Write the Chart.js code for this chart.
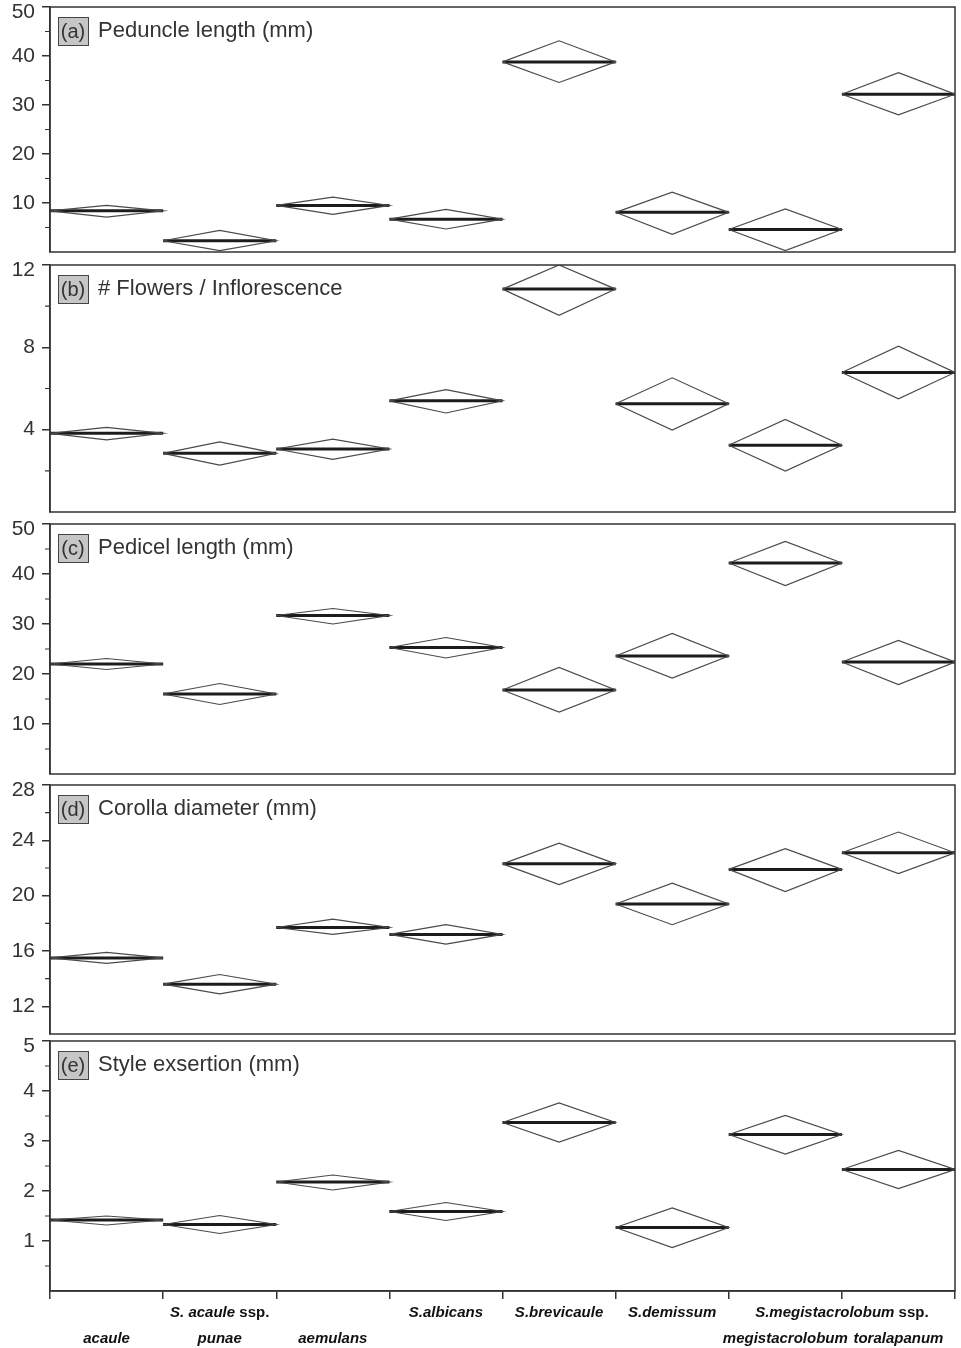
<!DOCTYPE html>
<html>
<head>
<meta charset="utf-8">
<script src="https://cdn.jsdelivr.net/npm/chart.js@4.4.1/dist/chart.umd.min.js"></script>
<style>
  body { margin: 0; background: #fff; }
  #wrap { position: relative; width: 961px; height: 1348px; overflow: hidden; background: #fff; }
  #wrap canvas { position: absolute; left: 0; }
</style>
</head>
<body>
<div id="wrap"></div>
<script>
// taxa, in plotting order
const categories = ['acaule', 'punae', 'aemulans', 'albicans', 'brevicaule', 'demissum', 'megistacrolobum', 'toralapanum'];
// upper label row: [text, first category, last category]
const speciesGroups = [
  ['S. acaule ssp.', 0, 2],
  ['S.albicans', 3, 3],
  ['S.brevicaule', 4, 4],
  ['S.demissum', 5, 5],
  ['S.megistacrolobum ssp.', 6, 7]
];
const subspeciesLabels = ['acaule', 'punae', 'aemulans', '', '', '', 'megistacrolobum', 'toralapanum'];

// (a) peduncle length (mm): mean and diamond top / bottom
const peduncleMean  = [8.4, 2.3, 9.5, 6.7, 38.8, 8.1, 4.6, 32.2];
const peduncleUpper = [9.5, 4.4, 11.2, 8.7, 43.1, 12.2, 8.8, 36.6];
const peduncleLower = [7.1, 0.3, 7.7, 4.7, 34.6, 3.6, 0.3, 28.0];
const peduncleTicks = [10, 20, 30, 40, 50];

// (b) flowers per inflorescence
const flowersMean  = [3.82, 2.85, 3.06, 5.40, 10.83, 5.26, 3.24, 6.78];
const flowersUpper = [4.11, 3.41, 3.54, 5.94, 12.0, 6.52, 4.50, 8.06];
const flowersLower = [3.50, 2.28, 2.56, 4.81, 9.56, 3.98, 1.99, 5.50];
const flowersTicks = [4, 8, 12];

// (c) pedicel length (mm)
const pedicelMean  = [22.0, 16.0, 31.7, 25.3, 16.8, 23.6, 42.2, 22.4];
const pedicelUpper = [23.1, 18.1, 33.1, 27.3, 21.3, 28.1, 46.5, 26.7];
const pedicelLower = [20.9, 13.9, 30.0, 23.2, 12.4, 19.2, 37.7, 17.9];
const pedicelTicks = [10, 20, 30, 40, 50];

// (d) corolla diameter (mm)
const corollaMean  = [15.5, 13.6, 17.7, 17.2, 22.3, 19.4, 21.9, 23.1];
const corollaUpper = [15.9, 14.3, 18.3, 17.9, 23.8, 20.9, 23.4, 24.6];
const corollaLower = [15.1, 12.9, 17.2, 16.5, 20.8, 17.9, 20.3, 21.6];
const corollaTicks = [12, 16, 20, 24, 28];

// (e) style exsertion (mm)
const styleMean  = [1.42, 1.33, 2.18, 1.59, 3.37, 1.27, 3.13, 2.43];
const styleUpper = [1.50, 1.51, 2.32, 1.77, 3.76, 1.66, 3.51, 2.81];
const styleLower = [1.32, 1.15, 2.02, 1.41, 2.98, 0.87, 2.74, 2.05];
const styleTicks = [1, 2, 3, 4, 5];

const panels = [
  { tag: '(a)', title: 'Peduncle length (mm)', mean: peduncleMean, upper: peduncleUpper, lower: peduncleLower, ticks: peduncleTicks, min: 0, max: 50, top: 7, bottom: 252 },
  { tag: '(b)', title: '# Flowers / Inflorescence', mean: flowersMean, upper: flowersUpper, lower: flowersLower, ticks: flowersTicks, min: 0, max: 12, top: 265, bottom: 512 },
  { tag: '(c)', title: 'Pedicel length (mm)', mean: pedicelMean, upper: pedicelUpper, lower: pedicelLower, ticks: pedicelTicks, min: 0, max: 50, top: 524, bottom: 774 },
  { tag: '(d)', title: 'Corolla diameter (mm)', mean: corollaMean, upper: corollaUpper, lower: corollaLower, ticks: corollaTicks, min: 10, max: 28, top: 785, bottom: 1034 },
  { tag: '(e)', title: 'Style exsertion (mm)', mean: styleMean, upper: styleUpper, lower: styleLower, ticks: styleTicks, min: 0, max: 5, top: 1041, bottom: 1291 }
];

const INK = '#333';
const FONT = '"Liberation Sans", Arial, sans-serif';
const PAGE_H = 1348;

function drawTaxon(ctx, text, cx, y) {
  // "ssp." stays upright, the names are italic
  let parts = [[text, 'italic bold']];
  if (text.endsWith(' ssp.')) parts = [[text.slice(0, -4), 'italic bold'], ['ssp.', 'bold']];
  let total = 0;
  parts.forEach(p => { ctx.font = p[1] + ' 15px ' + FONT; p.push(ctx.measureText(p[0]).width); total += p[2]; });
  let x = cx - total / 2;
  parts.forEach(p => {
    ctx.font = p[1] + ' 15px ' + FONT;
    ctx.fillText(p[0], x, y);
    x += p[2];
  });
}

const decor = {
  id: 'decor',
  afterDraw(chart, args, opts) {
    const { ctx, chartArea: a, scales: { x, y } } = chart;
    const p = opts.panel;
    ctx.save();
    // frame
    ctx.strokeStyle = INK;
    ctx.lineWidth = 1.5;
    ctx.strokeRect(a.left, a.top, a.right - a.left, a.bottom - a.top);

    // minor ticks half-way between labelled ticks
    const step = p.ticks[1] - p.ticks[0];
    ctx.lineWidth = 1.2;
    ctx.beginPath();
    for (let v = p.ticks[0] - step / 2; v < p.max; v += step) {
      if (v <= p.min) continue;
      const py = y.getPixelForValue(v);
      ctx.moveTo(a.left - 5, py);
      ctx.lineTo(a.left, py);
    }
    ctx.stroke();

    // y tick labels, the top one pushed inside like the original
    ctx.fillStyle = INK;
    ctx.font = '21px ' + FONT;
    ctx.textAlign = 'right';
    ctx.textBaseline = 'middle';
    p.ticks.forEach(v => {
      let py = y.getPixelForValue(v);
      if (py < a.top + 5) py = a.top + 5;
      ctx.fillText(String(v), a.left - 15, py);
    });

    // panel tag box and title
    ctx.fillStyle = '#c6c6c6';
    ctx.fillRect(a.left + 8, a.top + 10, 30, 28);
    ctx.lineWidth = 1;
    ctx.strokeStyle = '#444';
    ctx.strokeRect(a.left + 8.5, a.top + 10.5, 30, 28);
    ctx.fillStyle = INK;
    ctx.textAlign = 'center';
    ctx.font = '20px ' + FONT;
    ctx.fillText(p.tag, a.left + 23, a.top + 25);
    ctx.textAlign = 'left';
    ctx.font = '22px ' + FONT;
    ctx.fillText(p.title, a.left + 48, a.top + 24);

    // category labels under the last panel
    if (opts.last) {
      ctx.fillStyle = '#111';
      ctx.textAlign = 'left';
      speciesGroups.forEach(g => {
        const cx = (x.getPixelForValue(g[1]) + x.getPixelForValue(g[2])) / 2;
        drawTaxon(ctx, g[0], cx, a.bottom + 22);
      });
      subspeciesLabels.forEach((t, i) => {
        if (t) drawTaxon(ctx, t, x.getPixelForValue(i), a.bottom + 48);
      });
    }
    ctx.restore();
  }
};

const wrap = document.getElementById('wrap');
const boundaries = categories.map((_, i) => i - 0.5).concat(categories.length - 0.5);

panels.forEach((p, k) => {
  const last = k === panels.length - 1;
  const cTop = Math.max(0, p.top - 10);
  const cH = last ? PAGE_H - cTop : p.bottom + 6 - cTop;
  const canvas = document.createElement('canvas');
  canvas.width = 961;
  canvas.height = cH;
  canvas.style.top = cTop + 'px';
  wrap.appendChild(canvas);

  const datasets = [];
  categories.forEach((c, i) => {
    datasets.push({
      label: c + ' diamond',
      data: [
        { x: i - 0.5, y: p.mean[i] }, { x: i, y: p.upper[i] },
        { x: i + 0.5, y: p.mean[i] }, { x: i, y: p.lower[i] },
        { x: i - 0.5, y: p.mean[i] }
      ],
      borderColor: '#4a4a4a',
      borderWidth: 1.2
    });
    datasets.push({
      label: c + ' mean',
      data: [{ x: i - 0.5, y: p.mean[i] }, { x: i + 0.5, y: p.mean[i] }],
      borderColor: '#1c1c1c',
      borderWidth: 3
    });
  });

  const xScale = {
    type: 'linear', min: -0.5, max: 7.5, display: last,
    afterBuildTicks: s => { s.ticks = boundaries.map(v => ({ value: v })); },
    ticks: { display: false },
    grid: { drawOnChartArea: false, drawTicks: true, tickLength: 8, color: INK, lineWidth: 1.5 },
    border: { display: true, color: INK, width: 1.5 }
  };
  if (last) xScale.afterFit = s => { s.height = PAGE_H - p.bottom; };

  new Chart(canvas, {
    type: 'line',
    data: { datasets },
    options: {
      responsive: false,
      animation: false,
      devicePixelRatio: 1,
      events: [],
      layout: { padding: { top: p.top - cTop, right: 6, bottom: last ? 0 : 6, left: 0 } },
      elements: { point: { radius: 0 }, line: { tension: 0, fill: false } },
      plugins: { legend: { display: false }, tooltip: { enabled: false }, decor: { panel: p, last } },
      scales: {
        x: xScale,
        y: {
          min: p.min, max: p.max,
          afterBuildTicks: s => { s.ticks = p.ticks.map(v => ({ value: v })); },
          afterFit: s => { s.width = 50; },
          ticks: { display: false },
          grid: { drawOnChartArea: false, drawTicks: true, tickLength: 8, color: INK, lineWidth: 1.5 },
          border: { display: true, color: INK, width: 1.5 }
        }
      }
    },
    plugins: [decor]
  });
});
</script>
</body>
</html>
